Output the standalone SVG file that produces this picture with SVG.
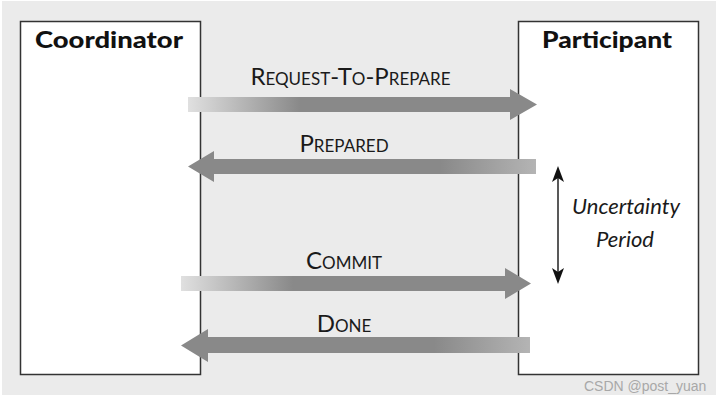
<svg xmlns="http://www.w3.org/2000/svg" width="720" height="402" viewBox="0 0 720 402">
  <style>
    .box { fill: #ffffff; stroke: #333333; stroke-width: 1.5; }
    .title { font-family: Lato, "Open Sans", sans-serif; font-weight: 900; font-size: 23px; fill: #111111; text-anchor: middle; }
    .lbl { font-family: Lato, "Open Sans", sans-serif; fill: #1a1a1a; text-anchor: middle; }
    .big { font-size: 24px; }
    .sm { font-size: 17px; }
    .ital { font-family: Lato, "Open Sans", sans-serif; font-style: italic; font-size: 22px; fill: #1a1a1a; text-anchor: middle; }
    .wm { font-family: "Liberation Sans", Arial, sans-serif; font-size: 14px; fill: #a8a8a8; }
  </style>
  <defs>
    <linearGradient id="gR1" gradientUnits="userSpaceOnUse" x1="188" y1="0" x2="300" y2="0">
      <stop offset="0" stop-color="#e0e0e0"/>
      <stop offset="1" stop-color="#898989"/>
    </linearGradient>
    <linearGradient id="gR3" gradientUnits="userSpaceOnUse" x1="181" y1="0" x2="293" y2="0">
      <stop offset="0" stop-color="#e0e0e0"/>
      <stop offset="1" stop-color="#898989"/>
    </linearGradient>
    <linearGradient id="gL2" gradientUnits="userSpaceOnUse" x1="536" y1="0" x2="440" y2="0">
      <stop offset="0" stop-color="#b4b4b4"/>
      <stop offset="1" stop-color="#898989"/>
    </linearGradient>
    <linearGradient id="gL4" gradientUnits="userSpaceOnUse" x1="530" y1="0" x2="434" y2="0">
      <stop offset="0" stop-color="#b4b4b4"/>
      <stop offset="1" stop-color="#898989"/>
    </linearGradient>
  </defs>

  <rect x="0" y="0" width="720" height="402" fill="#ffffff"/>
  <rect x="2" y="1" width="714" height="394" fill="#ebebeb"/>

  <g id="coordinator">
    <rect class="box" x="20.5" y="21.5" width="180" height="353"/>
    <text class="title" x="109" y="48" textLength="148" lengthAdjust="spacingAndGlyphs">Coordinator</text>
  </g>

  <g id="participant">
    <rect class="box" x="518.5" y="21.5" width="180" height="353"/>
    <text class="title" x="607" y="48" textLength="130" lengthAdjust="spacingAndGlyphs">Participant</text>
  </g>

  <g id="connectors">
    <path d="M188,97 H510 V89 L537,104.5 L510,120 V112 H188 Z" fill="url(#gR1)"/>
    <path d="M536,159 H214 V151 L188,166.5 L214,182 V174 H536 Z" fill="url(#gL2)"/>
    <path d="M181,276 H505 V268 L531,283.5 L505,299 V291 H181 Z" fill="url(#gR3)"/>
    <path d="M530,337 H208 V329 L181,345.5 L208,362 V353 H530 Z" fill="url(#gL4)"/>

    <text class="lbl" x="350.5" y="85"><tspan class="big">R</tspan><tspan class="sm">EQUEST</tspan><tspan class="big">-T</tspan><tspan class="sm">O</tspan><tspan class="big">-P</tspan><tspan class="sm">REPARE</tspan></text>
    <text class="lbl" x="344" y="152"><tspan class="big">P</tspan><tspan class="sm">REPARED</tspan></text>
    <text class="lbl" x="344" y="269"><tspan class="big">C</tspan><tspan class="sm">OMMIT</tspan></text>
    <text class="lbl" x="344" y="332"><tspan class="big">D</tspan><tspan class="sm">ONE</tspan></text>

    <g id="uncertainty">
      <line x1="558" y1="178" x2="558" y2="272" stroke="#222222" stroke-width="1.5"/>
      <path d="M558,166 L564,182 L558,178 L552,182 Z" fill="#111111"/>
      <path d="M558,284 L564,268 L558,272 L552,268 Z" fill="#111111"/>
      <text class="ital" x="626" y="214">Uncertainty</text>
      <text class="ital" x="625" y="247">Period</text>
    </g>
  </g>

  <text class="wm" x="584" y="391">CSDN @post_yuan</text>
</svg>
